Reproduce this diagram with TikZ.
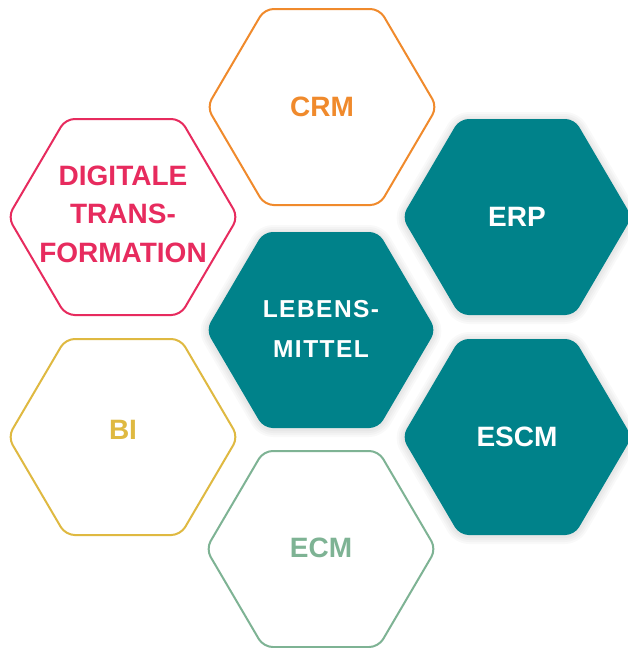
\documentclass[tikz,border=0pt]{standalone}
\usepackage{fontspec}
\setmainfont{Liberation Sans}
\definecolor{hOrange}{HTML}{F08A2C}
\definecolor{hPink}{HTML}{E72B5E}
\definecolor{hTeal}{HTML}{00828A}
\definecolor{hYellow}{HTML}{DFB941}
\definecolor{hGreen}{HTML}{7EB394}
\newcommand{\hexshape}[3]{%
  \path[#3] (#1-115,#2) -- (#1-57.5,#2-98) -- (#1+57.5,#2-98) -- (#1+115,#2)
    -- (#1+57.5,#2+98) -- (#1-57.5,#2+98) -- cycle;}
\newcommand{\glowhex}[2]{%
  \foreach \w in {16,12,8,4} {\hexshape{#1}{#2+1}{glowline=\w}}%
  \hexshape{#1}{#2}{hexfill}}
\tikzset{
  hexline/.style={draw=#1, line width=2pt, rounded corners=9pt, fill=white},
  hexfill/.style={fill=hTeal, rounded corners=9pt},
  glowline/.style={draw=black, draw opacity=0.025, line width=#1pt, rounded corners=9pt, line join=round},
  hextext/.style={text=#1, font=\fontsize{28}{38.5}\selectfont\bfseries, align=center, inner sep=0pt},
}
\begin{document}
\begin{tikzpicture}[x=1pt,y=-1pt]
\useasboundingbox[fill=white] (0,0) rectangle (628,648);
% outlined hexagons
\hexshape{322}{107}{hexline=hOrange}
\hexshape{123}{217}{hexline=hPink}
\hexshape{123}{437}{hexline=hYellow}
\hexshape{321}{549}{hexline=hGreen}
% filled hexagons with soft shadow
\glowhex{517}{217}
\glowhex{517}{437}
\glowhex{321}{330}
% labels
\node[hextext=hOrange] (crm) at (322,107) {CRM};
\node[hextext=hPink] (dt) at (123,214) {DIGITALE\\TRANS-\\FORMATION};
\node[hextext=hYellow] (bi) at (123,430) {BI};
\node[hextext=hGreen] (ecm) at (321,548) {ECM};
\node[hextext=white] (erp) at (517,217) {ERP};
\node[hextext=white] (escm) at (517,437) {ESCM};
\node[text=white, font=\fontsize{24.5}{40}\selectfont\bfseries\addfontfeatures{LetterSpace=6}, align=center, inner sep=0pt] (lm) at (321,329) {LEBENS-\\MITTEL};
\end{tikzpicture}
\end{document}
